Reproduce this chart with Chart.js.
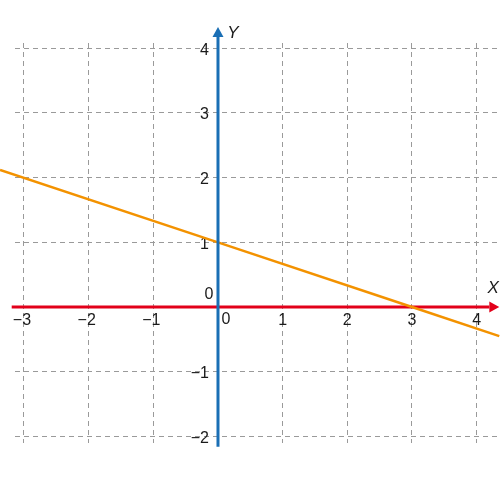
<!DOCTYPE html>
<html>
<head>
<meta charset="utf-8">
<script src="https://cdn.jsdelivr.net/npm/chart.js@4"></script>
<style>
  html, body { margin: 0; padding: 0; background: #fff; }
  #wrap { width: 500px; height: 500px; }
</style>
</head>
<body>
<div id="wrap"><canvas id="chart" width="500" height="500"></canvas></div>
<script>
// grid positions and tick labels
const gridX = [-3, -2, -1, 0, 1, 2, 3, 4];
const gridY = [-2, -1, 0, 1, 2, 3, 4];
const xTickValues = [-3, -2, -1, 1, 2, 3, 4];
const xTickLabels = ['\u22123', '\u22122', '\u22121', '1', '2', '3', '4'];
const yTickValues = [-2, -1, 1, 2, 3, 4];
const yTickLabels = ['\u22122', '\u22121', '1', '2', '3', '4'];

// the orange line
const lineX = [-3.37, 0, 3, 4.35];
const lineY = [2.12, 1, 0, -0.45];

// axis extents (arrow tip at the end)
const xAxisRange = [-3.19, 4.35];
const yAxisRange = [-2.16, 4.33];

const font = '16px "Liberation Sans", Arial, sans-serif';
const italicFont = 'italic 17px "Liberation Sans", Arial, sans-serif';

function arrowLine(ctx, x1, y1, x2, y2, color, width) {
  const ang = Math.atan2(y2 - y1, x2 - x1);
  const head = 10, half = 5.5;
  const bx = x2 - head * Math.cos(ang), by = y2 - head * Math.sin(ang);
  ctx.save();
  ctx.strokeStyle = color;
  ctx.fillStyle = color;
  ctx.lineWidth = width;
  ctx.beginPath();
  ctx.moveTo(x1, y1);
  ctx.lineTo(bx, by);
  ctx.stroke();
  ctx.beginPath();
  ctx.moveTo(x2, y2);
  ctx.lineTo(bx - half * Math.sin(ang), by + half * Math.cos(ang));
  ctx.lineTo(bx + half * Math.sin(ang), by - half * Math.cos(ang));
  ctx.closePath();
  ctx.fill();
  ctx.restore();
}

const axesPlugin = {
  id: 'axes',
  beforeDatasetsDraw(chart) {
    const ctx = chart.ctx;
    const xs = chart.scales.x, ys = chart.scales.y;
    const x0 = xs.getPixelForValue(0), y0 = ys.getPixelForValue(0);

    // x axis (red)
    arrowLine(ctx, xs.getPixelForValue(xAxisRange[0]), y0,
      xs.getPixelForValue(xAxisRange[1]), y0, '#e2001a', 3);

    ctx.save();
    ctx.font = font;
    ctx.fillStyle = '#1a1a1a';
    ctx.textAlign = 'center';
    ctx.textBaseline = 'middle';
    xTickValues.forEach((v, i) => {
      const off = v < 0 ? -2 : 0;
      ctx.fillText(xTickLabels[i], xs.getPixelForValue(v) + off, y0 + 14);
    });
    ctx.fillText('0', x0 + 8, y0 + 13);
    ctx.fillText('0', x0 - 9, y0 - 12);
    ctx.textAlign = 'right';
    yTickValues.forEach((v, i) => {
      ctx.fillText(yTickLabels[i], x0 - 9, ys.getPixelForValue(v) + 2);
    });
    ctx.font = italicFont;
    ctx.textAlign = 'center';
    ctx.fillText('X', xs.getPixelForValue(xAxisRange[1]) - 6, y0 - 19);
    ctx.restore();
  },
  afterDatasetsDraw(chart) {
    const ctx = chart.ctx;
    const xs = chart.scales.x, ys = chart.scales.y;
    const x0 = xs.getPixelForValue(0);
    // y axis (blue)
    arrowLine(ctx, x0, ys.getPixelForValue(yAxisRange[0]),
      x0, ys.getPixelForValue(yAxisRange[1]), '#1a6fb5', 3);
    ctx.save();
    ctx.font = italicFont;
    ctx.fillStyle = '#1a1a1a';
    ctx.textAlign = 'center';
    ctx.textBaseline = 'middle';
    ctx.fillText('Y', x0 + 15, ys.getPixelForValue(yAxisRange[1]) + 6);
    ctx.restore();
  }
};

function gridScale(min, max, values) {
  return {
    type: 'linear',
    min: min,
    max: max,
    afterBuildTicks: s => { s.ticks = values.map(v => ({ value: v })); },
    ticks: { display: false },
    border: { display: false, dash: [5, 4] },
    grid: { color: '#9a9a9a', lineWidth: 1, drawTicks: false }
  };
}

const ctx = document.getElementById('chart').getContext('2d');
new Chart(ctx, {
  type: 'scatter',
  data: {
    datasets: [{
      data: lineX.map((x, i) => ({ x: x, y: lineY[i] })),
      showLine: true,
      borderColor: '#f39200',
      borderWidth: 2.5,
      pointRadius: 0,
      clip: false
    }]
  },
  options: {
    responsive: false,
    animation: false,
    layout: { padding: { left: 15, right: 0, top: 43, bottom: 57 } },
    scales: {
      x: gridScale(-3.139, 4.361, gridX),
      y: gridScale(-2.103, 4.082, gridY)
    },
    plugins: {
      legend: { display: false },
      tooltip: { enabled: false }
    }
  },
  plugins: [axesPlugin]
});
</script>
</body>
</html>
